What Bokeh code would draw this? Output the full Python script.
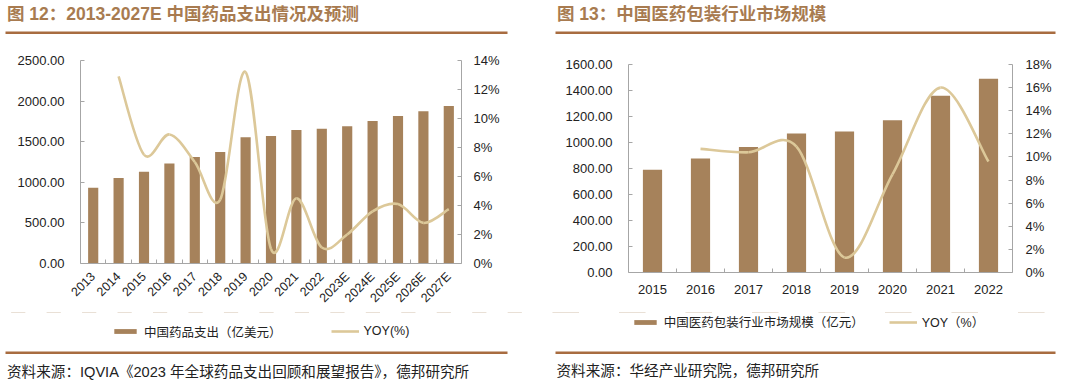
import math
from bokeh.plotting import figure
from bokeh.models import (Range1d, LinearAxis, FixedTicker, NumeralTickFormatter,
                          PrintfTickFormatter, Label, BoxAnnotation, Legend, LegendItem,
                          ColumnDataSource)
from bokeh.layouts import row, column
from bokeh.embed import file_html
from bokeh.resources import INLINE

# ---------------- data ----------------
years1 = ["2013", "2014", "2015", "2016", "2017", "2018", "2019", "2020", "2021",
          "2022", "2023E", "2024E", "2025E", "2026E", "2027E"]
spend1 = [934, 1053, 1131, 1230, 1312, 1374, 1554, 1571, 1645, 1661, 1690, 1756, 1818, 1875, 1941]
yoy1_years = years1[1:]
yoy1 = [12.9, 7.5, 8.9, 7.0, 4.4, 13.2, 1.0, 4.5, 1.1, 2.0, 3.6, 4.1, 2.8, 3.75]

years2 = ["2015", "2016", "2017", "2018", "2019", "2020", "2021", "2022"]
size2 = [791, 876, 965, 1070, 1085, 1172, 1360, 1490]
yoy2_years = years2[1:]
yoy2 = [10.7, 10.4, 10.9, 1.3, 8.5, 16.0, 9.6]

title1 = "图 12：2013-2027E 中国药品支出情况及预测"
title2 = "图 13：中国医药包装行业市场规模"
legend1 = ["中国药品支出（亿美元）", "YOY(%)"]
legend2 = ["中国医药包装行业市场规模（亿元）", "YOY（%）"]
source1 = "资料来源：IQVIA《2023 年全球药品支出回顾和展望报告》，德邦研究所"
source2 = "资料来源：华经产业研究院，德邦研究所"

# ---------------- style ----------------
BAR = "#A6825B"
LINE = "#DCC899"
AXIS = "#A6A6A6"
TITLE = "#A87B50"
RULE = "#A86C40"
TXT = "#222222"
LAT = "Liberation Sans"
MIX = "Liberation Sans, Noto Sans CJK SC"
W = 532
HEAD_H = 42
CHART_B = 312
FOOT_TOP = 345
PAGE_H = 384


def smooth(xs, ys, t=1.0 / 6):
    n = len(xs)
    d = dict(x0=[], y0=[], x1=[], y1=[], cx0=[], cy0=[], cx1=[], cy1=[])
    for i in range(n - 1):
        a = i - 1 if i > 0 else i
        b = i + 2 if i + 2 < n else i + 1
        d["x0"].append(xs[i]); d["y0"].append(ys[i])
        d["x1"].append(xs[i + 1]); d["y1"].append(ys[i + 1])
        d["cx0"].append(xs[i] + (xs[i + 1] - xs[a]) * t)
        d["cy0"].append(ys[i] + (ys[i + 1] - ys[a]) * t)
        d["cx1"].append(xs[i + 1] - (xs[b] - xs[i]) * t)
        d["cy1"].append(ys[i + 1] - (ys[b] - ys[i]) * t)
    return ColumnDataSource(d)


def blank(ox, top, bottom):
    f = figure(width=W, height=bottom - top, x_range=Range1d(ox, ox + W),
               y_range=Range1d(bottom, top), output_backend="svg",
               toolbar_location=None, x_axis_location=None, y_axis_location=None,
               min_border=0, min_border_left=0, min_border_right=0,
               min_border_top=0, min_border_bottom=0, frame_align=False,
               outline_line_color=None,
               background_fill_color="white", border_fill_color="white")
    f.grid.visible = False
    return f


def rule(f, x0, x1, yc):
    f.add_layout(BoxAnnotation(left=x0, right=x1, top=yc - 1.3, bottom=yc + 1.3,
                               fill_color=RULE, fill_alpha=1, line_color=None))


def header(ox, title, tx, rx0, rx1):
    h = blank(ox, 0, HEAD_H)
    h.add_layout(Label(x=tx, y=13.5, text=title, text_font=MIX, text_font_size="17.5px",
                       text_font_style="bold", text_color=TITLE, text_baseline="middle"))
    rule(h, rx0, rx1, 32.3)
    return h


def footer(ox, source, sx, sy, rx0, rx1):
    f = blank(ox, FOOT_TOP, PAGE_H)
    rule(f, rx0, rx1, 352.2)
    f.add_layout(Label(x=sx, y=sy, text=source, text_font=MIX, text_font_size="14.6px",
                       text_color=TXT, text_baseline="middle"))
    return f


def legend_strip(ox, cats, vals, ycats, yoy, labels, lx, ly, sp):
    """Legend row; its keys are the chart's series mapped to ranges kept out of view."""
    g = blank(ox, CHART_B, FOOT_TOP)
    n = len(cats)
    g.extra_x_ranges = {"key": Range1d(-0.5, n - 0.5)}
    g.extra_y_ranges = {"key": Range1d(-2, -1)}
    kb = g.vbar(x=list(range(n)), top=vals, width=0.4, fill_color=BAR, line_color=None,
                x_range_name="key", y_range_name="key")
    kl = g.line(x=[cats.index(c) for c in ycats], y=yoy, line_color=LINE, line_width=2.6,
                x_range_name="key", y_range_name="key")
    leg = Legend(items=[LegendItem(label=labels[0], renderers=[kb]),
                        LegendItem(label=labels[1], renderers=[kl])],
                 location=(lx, ly), orientation="horizontal",
                 glyph_width=28, glyph_height=6, label_height=16, label_standoff=5,
                 spacing=sp, padding=0, margin=0, border_line_color=None,
                 background_fill_alpha=0, label_text_font=MIX,
                 label_text_font_size="12.5px", label_text_color=TXT)
    g.add_layout(leg)
    return g


def chart(cats, vals, ycats, yoy, ymax, ystep, pmax, pstep, borders, rotate,
          ystand, rstand):
    n = len(cats)
    bl, br, bt, bb = borders
    p = figure(width=W, height=CHART_B - HEAD_H, x_range=Range1d(-0.5, n - 0.5),
               y_range=Range1d(0, ymax), output_backend="svg", toolbar_location=None,
               min_border_left=bl, min_border_right=br, min_border_top=bt,
               min_border_bottom=bb, background_fill_color="white",
               border_fill_color="white", outline_line_color=None)
    p.extra_y_ranges = {"pct": Range1d(0, pmax)}
    p.xgrid.visible = False
    p.ygrid.visible = False

    xs = list(range(n))
    p.vbar(x=xs, top=vals, width=0.4, fill_color=BAR, line_color=None)
    yx = [cats.index(c) for c in ycats]
    p.bezier(x0="x0", y0="y0", x1="x1", y1="y1", cx0="cx0", cy0="cy0",
             cx1="cx1", cy1="cy1", source=smooth(yx, yoy),
             line_color=LINE, line_width=2.6, y_range_name="pct")

    xa = p.xaxis[0]
    xa.ticker = FixedTicker(ticks=xs, minor_ticks=[i + 0.5 for i in range(n - 1)])
    xa.major_label_overrides = {i: c for i, c in enumerate(cats)}
    xa.major_tick_line_color = None
    xa.minor_tick_in = 4
    xa.minor_tick_out = 0
    xa.minor_tick_line_color = AXIS
    xa.axis_line_color = AXIS
    xa.major_label_text_font = LAT
    xa.major_label_text_color = TXT
    if rotate:
        xa.major_label_orientation = math.pi / 4
        xa.major_label_text_font_size = "12.5px"
        xa.major_label_standoff = 5
    else:
        xa.major_label_text_font_size = "13px"
        xa.major_label_standoff = 6

    ya = p.yaxis[0]
    ya.ticker = FixedTicker(ticks=list(range(0, ymax + 1, ystep)))
    ya.formatter = NumeralTickFormatter(format="0.00")
    ya.major_tick_in = 4
    ya.major_tick_out = 0
    ya.minor_tick_line_color = None
    ya.axis_line_color = AXIS
    ya.major_tick_line_color = AXIS
    ya.major_label_text_font = LAT
    ya.major_label_text_font_size = "13px"
    ya.major_label_text_color = TXT
    ya.major_label_standoff = ystand

    ra = LinearAxis(y_range_name="pct",
                    ticker=FixedTicker(ticks=list(range(0, pmax + 1, pstep))),
                    formatter=PrintfTickFormatter(format="%d%%"))
    ra.major_tick_in = 4
    ra.major_tick_out = 0
    ra.minor_tick_line_color = None
    ra.axis_line_color = AXIS
    ra.major_tick_line_color = AXIS
    ra.major_label_text_font = LAT
    ra.major_label_text_font_size = "13px"
    ra.major_label_text_color = TXT
    ra.major_label_standoff = rstand
    p.add_layout(ra, "right")
    return p


# left panel (canvas x 0..532)
h1 = header(0, title1, 6.5, 5, 507)
c1 = chart(years1, spend1, yoy1_years, yoy1, 2500, 500, 14, 2,
           (80, 71, 60 - HEAD_H, CHART_B - 263), True, 16, 12)
l1 = legend_strip(0, years1, spend1, yoy1_years, yoy1, legend1, 111,
                  FOOT_TOP - 340.7, 49)
f1 = footer(0, source1, 6.5, 371.7, 5, 507)

# right panel (canvas x 532..1064)
h2 = header(W, title2, 556.5, 555, 1055)
c2 = chart(years2, size2, yoy2_years, yoy2, 1600, 200, 18, 2,
           (96, 52, 64 - HEAD_H, CHART_B - 272), False, 16, 13)
l2 = legend_strip(W, years2, size2, yoy2_years, yoy2, legend2, 98.7,
                  FOOT_TOP - 331.3, 25)
f2 = footer(W, source2, 556, 370, 555, 1055)

layout = row(column(h1, c1, l1, f1), column(h2, c2, l2, f2))
open("out.html", "w").write(file_html(layout, INLINE))
